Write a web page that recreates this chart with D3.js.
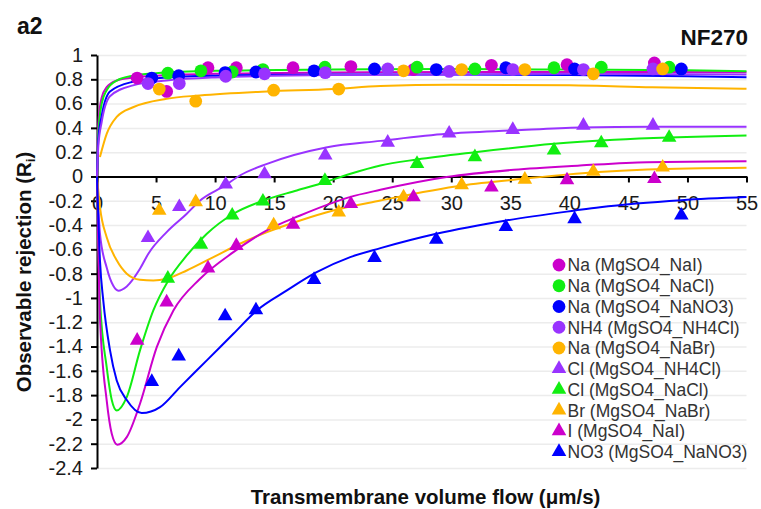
<!DOCTYPE html>
<html>
<head>
<meta charset="utf-8">
<script src="https://cdn.jsdelivr.net/npm/d3@7"></script>
<style>
    body { margin: 0; background: #fff; }
    text { font-family: "Liberation Sans", Arial, sans-serif; }
</style>
</head>
<body>
<svg id="chart"></svg>
<script>
// tick labels
const xTicks = [0, 5, 10, 15, 20, 25, 30, 35, 40, 45, 50, 55];
const yTicks = [1, 0.8, 0.6, 0.4, 0.2, 0, -0.2, -0.4, -0.6, -0.8, -1, -1.2, -1.4, -1.6, -1.8, -2, -2.2, -2.4];

// series names (legend order) and colours
const seriesNames = ["Na (MgSO4_NaI)", "Na (MgSO4_NaCl)", "Na (MgSO4_NaNO3)", "NH4 (MgSO4_NH4Cl)", "Na (MgSO4_NaBr)",
    "Cl (MgSO4_NH4Cl)", "Cl (MgSO4_NaCl)", "Br (MgSO4_NaBr)", "I (MgSO4_NaI)", "NO3 (MgSO4_NaNO3)"];
const seriesColors = ["#cc00cc", "#11ee11", "#0000ff", "#9933ff", "#ffb400",
    "#9933ff", "#11ee11", "#ffb400", "#cc00cc", "#0000ff"];
const seriesShapes = ["circle", "circle", "circle", "circle", "circle",
    "triangle", "triangle", "triangle", "triangle", "triangle"];

// transmembrane volume flow of each experiment (um/s)
const flowNaI = [3.4, 5.9, 9.4, 11.8, 16.6, 21.5, 26.8, 33.4, 39.8, 47.2];
const flowNaCl = [6.0, 8.8, 11.45, 14.05, 19.3, 27.1, 32.0, 38.7, 42.7, 48.45];
const flowNaNO3 = [4.64, 6.92, 10.85, 13.46, 18.38, 23.5, 28.73, 34.62, 40.44, 49.48];
const flowNH4Cl = [4.32, 6.97, 10.9, 14.19, 19.33, 24.62, 29.82, 35.21, 41.19, 47.08];
const flowNaBr = [5.27, 8.36, 14.96, 20.47, 25.96, 30.88, 36.23, 42.03, 47.9];

// observed rejections
const rejNa_NaI = [0.81, 0.70, 0.895, 0.895, 0.895, 0.905, 0.88, 0.915, 0.92, 0.935];
const rejNa_NaCl = [0.85, 0.87, 0.86, 0.88, 0.90, 0.90, 0.885, 0.895, 0.90, 0.90];
const rejNa_NaNO3 = [0.81, 0.83, 0.855, 0.86, 0.87, 0.885, 0.88, 0.895, 0.885, 0.885];
const rejNH4_NH4Cl = [0.765, 0.765, 0.825, 0.845, 0.855, 0.885, 0.865, 0.88, 0.88, 0.885];
const rejNa_NaBr = [0.72, 0.62, 0.71, 0.72, 0.87, 0.88, 0.88, 0.845, 0.885];
const rejCl_NH4Cl = [-0.505, -0.25, -0.065, 0.02, 0.175, 0.28, 0.355, 0.385, 0.42, 0.42];
const rejCl_NaCl = [-0.84, -0.56, -0.32, -0.205, -0.035, 0.105, 0.16, 0.215, 0.275, 0.32];
const rejBr_NaBr = [-0.28, -0.21, -0.40, -0.295, -0.17, -0.07, -0.025, 0.04, 0.075];
const rejI_NaI = [-1.35, -1.035, -0.755, -0.57, -0.395, -0.225, -0.17, -0.09, -0.03, -0.02];
const rejNO3_NaNO3 = [-1.69, -1.48, -1.15, -1.10, -0.85, -0.67, -0.52, -0.415, -0.35, -0.32];

// model curves [flow, rejection]
const fitNa_NaI = [[0, 0], [0.11, 0.43], [0.4, 0.65], [0.82, 0.735], [1.67, 0.79], [3.1, 0.815], [5, 0.83], [10, 0.845], [20, 0.855], [30, 0.86], [40, 0.86], [55, 0.858]];
const fitNa_NaCl = [[0, 0], [0.11, 0.35], [0.4, 0.6], [0.82, 0.71], [1.67, 0.79], [3.1, 0.83], [5, 0.85], [10, 0.87], [20, 0.88], [30, 0.885], [40, 0.88], [50, 0.875], [55, 0.867]];
const fitNa_NaNO3 = [[0, 0], [0.11, 0.3], [0.4, 0.5], [1.1, 0.7], [3.05, 0.78], [5.9, 0.815], [10, 0.83], [20, 0.84], [30, 0.84], [40, 0.835], [50, 0.825], [55, 0.817]];
const fitNH4_NH4Cl = [[0, 0], [0.11, 0.25], [0.4, 0.45], [1.1, 0.66], [3.05, 0.75], [5.9, 0.79], [10, 0.815], [20, 0.835], [30, 0.84], [40, 0.845], [55, 0.84]];
const fitNa_NaBr = [[0.25, 0.16], [0.82, 0.35], [1.67, 0.49], [3.05, 0.57], [5.9, 0.64], [8.7, 0.667], [14.4, 0.70], [20, 0.72], [24, 0.745], [30, 0.755], [40, 0.75], [47, 0.735], [55, 0.722]];
const fitCl_NH4Cl = [[0, 0], [0.25, -0.47], [0.82, -0.75], [1.38, -0.9], [1.81, -0.94], [2.52, -0.905], [3.64, -0.76], [4.35, -0.636], [5.9, -0.458], [7.6, -0.307], [8.73, -0.198], [10.85, -0.074], [12.1, 0.008], [14.4, 0.104], [19.5, 0.241], [24, 0.293], [29.6, 0.351], [35.3, 0.379], [40.9, 0.403], [47, 0.41], [55, 0.41]];
const fitCl_NaCl = [[0, 0], [0.25, -1.02], [0.82, -1.57], [1.25, -1.84], [1.67, -1.926], [2.52, -1.816], [3.64, -1.432], [4.77, -1.103], [6.04, -0.856], [7.6, -0.65], [9.3, -0.472], [11.55, -0.307], [14.1, -0.198], [16.92, -0.115], [19.3, -0.047], [21.4, 0.02], [24, 0.09], [27.1, 0.14], [32, 0.2], [38.7, 0.269], [43.8, 0.302], [55, 0.337]];
const fitBr_NaBr = [[0, 0], [0.25, -0.25], [0.82, -0.5], [1.67, -0.69], [2.52, -0.80], [3.64, -0.85], [4.77, -0.856], [5.9, -0.842], [7.6, -0.774], [9.86, -0.664], [12.1, -0.554], [14.4, -0.458], [17.2, -0.362], [20, -0.28], [24, -0.198], [30.9, -0.074], [36.1, -0.019], [42.1, 0.035], [46.6, 0.058], [55, 0.072]];
const fitI_NaI = [[0, 0], [0.25, -1.158], [0.82, -1.844], [1.25, -2.118], [1.72, -2.208], [2.52, -2.146], [3.64, -1.871], [5.06, -1.405], [6.47, -1.103], [8.73, -0.842], [11.55, -0.623], [14.38, -0.444], [17.2, -0.321], [20, -0.215], [21.4, -0.17], [24, -0.11], [29.6, -0.005], [35.3, 0.055], [40.9, 0.09], [46.6, 0.118], [55, 0.126]];
const fitNO3_NaNO3 = [[0, 0], [0.25, -0.69], [0.53, -1.02], [1.1, -1.43], [1.67, -1.68], [2.52, -1.84], [3.79, -1.948], [5.34, -1.899], [7.03, -1.734], [9.3, -1.514], [11.55, -1.295], [13.53, -1.103], [16.08, -0.938], [18.6, -0.788], [21.44, -0.664], [24, -0.59], [28.73, -0.472], [34.66, -0.362], [40.5, -0.28], [42.6, -0.253], [49.5, -0.195], [55, -0.17]];

const seriesFlows = [flowNaI, flowNaCl, flowNaNO3, flowNH4Cl, flowNaBr, flowNH4Cl, flowNaCl, flowNaBr, flowNaI, flowNaNO3];
const seriesValues = [rejNa_NaI, rejNa_NaCl, rejNa_NaNO3, rejNH4_NH4Cl, rejNa_NaBr, rejCl_NH4Cl, rejCl_NaCl, rejBr_NaBr, rejI_NaI, rejNO3_NaNO3];
const seriesFits = [fitNa_NaI, fitNa_NaCl, fitNa_NaNO3, fitNH4_NH4Cl, fitNa_NaBr, fitCl_NH4Cl, fitCl_NaCl, fitBr_NaBr, fitI_NaI, fitNO3_NaNO3];

const config = {
    width: 761,
    height: 509,
    margin: { top: 55, right: 14.5, bottom: 41, left: 97 },
};

const svg = d3.select("#chart")
    .attr("width", config.width)
    .attr("height", config.height);

const x = d3.scaleLinear()
    .domain([0, 55])
    .range([config.margin.left, config.width - config.margin.right]);

const y = d3.scaleLinear()
    .domain([-2.4, 1])
    .range([config.height - config.margin.bottom, config.margin.top]);

const plotWidth = x(55) - x(0);

// horizontal gridlines
svg.append("g")
    .attr("class", "grid")
    .attr("transform", `translate(${x(0)}, 0)`)
    .call(d3.axisLeft(y).tickValues(yTicks).tickSize(-plotWidth).tickFormat(""))
    .call((g) => g.select(".domain").remove())
    .selectAll("line")
    .attr("stroke", "#ececec")
    .attr("stroke-width", 1.5);

// y axis
svg.append("g")
    .attr("class", "axis y-axis")
    .attr("transform", `translate(${x(0)}, 0)`)
    .call(d3.axisLeft(y).tickValues(yTicks).tickSize(6).tickSizeOuter(0).tickPadding(8).tickFormat((d) => String(d)));

// x axis sits on y = 0
svg.append("g")
    .attr("class", "axis x-axis")
    .attr("transform", `translate(0, ${y(0)})`)
    .call(d3.axisBottom(x).tickValues(xTicks).tickSize(6).tickSizeOuter(0).tickPadding(13).tickFormat((d) => String(d)));

svg.selectAll(".axis .domain, .axis line")
    .attr("stroke", "#000")
    .attr("stroke-width", 2);

svg.selectAll(".axis text")
    .attr("font-size", 20)
    .attr("fill", "#1a1a1a")
    .attr("font-family", "'Liberation Sans', Arial, sans-serif");

// fitted curves
const line = d3.line()
    .x((d) => x(d[0]))
    .y((d) => y(d[1]))
    .curve(d3.curveMonotoneX);

svg.append("g")
    .selectAll("path")
    .data(seriesFits)
    .join("path")
    .attr("d", line)
    .attr("fill", "none")
    .attr("stroke", (d, i) => seriesColors[i])
    .attr("stroke-width", 2);

// markers
const circleSymbol = d3.symbol(d3.symbolCircle).size(128);
const triangleSymbol = d3.symbol(d3.symbolTriangle).size(92);

seriesNames.forEach((name, i) => {
    const points = seriesFlows[i].map((f, j) => [f, seriesValues[i][j]]);
    svg.append("g")
        .attr("class", "markers")
        .selectAll("path")
        .data(points)
        .join("path")
        .attr("d", seriesShapes[i] === "circle" ? circleSymbol : triangleSymbol)
        .attr("transform", (d) => `translate(${x(d[0])}, ${y(d[1])})`)
        .attr("fill", seriesColors[i]);
});

// legend
const legend = svg.append("g")
    .attr("transform", "translate(559, 265)");

const legendRows = legend.selectAll("g")
    .data(seriesNames)
    .join("g")
    .attr("transform", (d, i) => `translate(0, ${i * 20.75})`);

legendRows.append("path")
    .attr("d", (d, i) => seriesShapes[i] === "circle" ? circleSymbol() : triangleSymbol())
    .attr("fill", (d, i) => seriesColors[i]);

legendRows.append("text")
    .attr("x", 8.5)
    .attr("dy", "0.36em")
    .attr("font-size", 17.5)
    .attr("fill", "#333")
    .text((d) => d);

// titles
svg.append("text")
    .attr("x", 17)
    .attr("y", 34)
    .attr("font-size", 23)
    .attr("font-weight", "bold")
    .attr("fill", "#111")
    .text("a2");

svg.append("text")
    .attr("x", 748)
    .attr("y", 45)
    .attr("text-anchor", "end")
    .attr("font-size", 22.5)
    .attr("font-weight", "bold")
    .attr("fill", "#111")
    .text("NF270");

svg.append("text")
    .attr("x", 425.5)
    .attr("y", 504)
    .attr("text-anchor", "middle")
    .attr("font-size", 20.5)
    .attr("font-weight", "bold")
    .attr("fill", "#111")
    .text("Transmembrane volume flow (μm/s)");

const yLabel = svg.append("text")
    .attr("transform", "translate(31, 272) rotate(-90)")
    .attr("text-anchor", "middle")
    .attr("font-size", 20.5)
    .attr("font-weight", "bold")
    .attr("fill", "#111");

yLabel.append("tspan").text("Observable rejection (R");
yLabel.append("tspan").attr("font-size", 13).attr("dy", 4).text("i");
yLabel.append("tspan").attr("dy", -4).text(")");
</script>
</body>
</html>
